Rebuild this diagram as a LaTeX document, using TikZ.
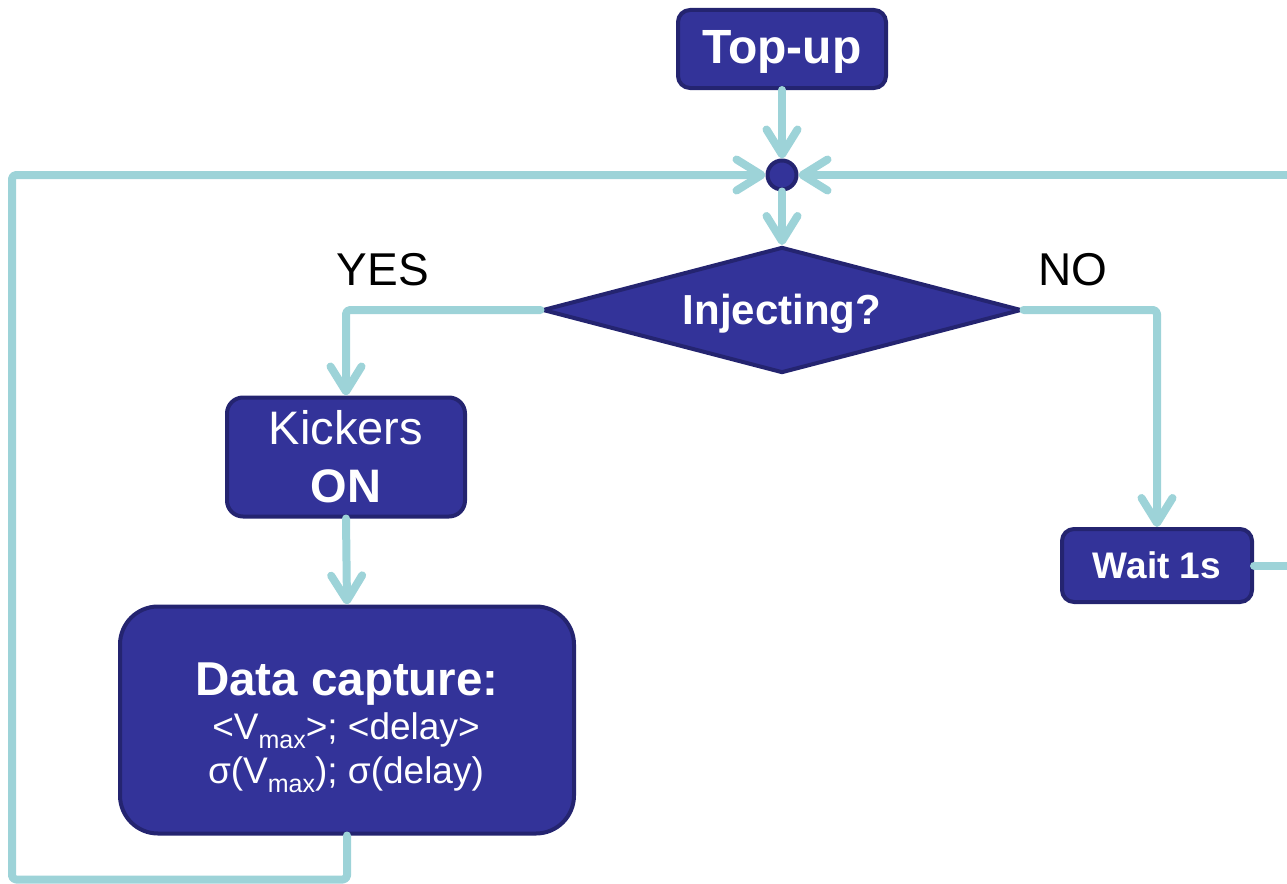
\documentclass[tikz,border=0pt]{standalone}
\usepackage{fontspec}
\usepackage{graphicx}
\setmainfont{Liberation Sans}
\usetikzlibrary{shapes.geometric,arrows.meta}
\definecolor{boxfill}{RGB}{51,51,153}
\definecolor{boxedge}{RGB}{36,36,112}
\definecolor{flow}{RGB}{157,211,216}
% lowered subscript in a fixed size
\newcommand{\lowsub}[1]{\raisebox{-9pt}{\fontsize{25}{25}\selectfont #1}}
% shift text down without changing the node size
\newcommand{\lowertext}[2]{\raisebox{-#1}[\height][\depth]{#2}}
\tikzset{
  stepbox/.style={draw=boxedge, fill=boxfill, line width=4pt, rounded corners=#1,
    text=white, inner sep=0pt, align=center},
  decision/.style={diamond, draw=boxedge, fill=boxfill, line width=4pt, text=white,
    inner sep=0pt, aspect=3.69, minimum width=479pt, minimum height=126pt},
  joint/.style={circle, draw=boxedge, fill=boxfill, line width=4pt, minimum size=29pt, inner sep=0pt},
  flowline/.style={draw=flow, line width=8pt, line cap=round, line join=round, rounded corners=4pt},
  flowarrow/.style={flowline, -{Straight Barb[length=25pt,width=31pt,line cap=round,line join=round]}},
  answer/.style={inner sep=0pt, font=\fontsize{46}{46}\selectfont, anchor=base},
  boxtext/.style={inner sep=0pt, text=white, anchor=base}
}
\begin{document}
\begin{tikzpicture}[x=1pt,y=-1pt]
\useasboundingbox (0,0) rectangle (1287,883);

% process boxes
\node[stepbox=12pt, minimum width=208pt, minimum height=78pt,
      font=\fontsize{48}{48}\selectfont\bfseries] (topup) at (782,49) {\lowertext{3pt}{Top-up}};
\node[joint] (join) at (782,175) {};
\node[decision, font=\fontsize{42}{42}\selectfont\bfseries] (inj) at (782,310) {\lowertext{4pt}{Injecting?}};
\node[stepbox=16pt, minimum width=238pt, minimum height=119pt,
      font=\fontsize{47}{58}\selectfont] (kick) at (346,457) {Kickers\\\textbf{ON}};
\node[stepbox=38pt, minimum width=454pt, minimum height=227pt] (data) at (347,720) {};
\node[boxtext, font=\fontsize{47.5}{47.5}\selectfont\bfseries]
      (dtitle) at (347,695) {Data capture:};
\node[boxtext, font=\fontsize{37}{37}\selectfont]
      (dmean) at (346,739) {<V\lowsub{max}>; <delay>};
\node[boxtext, font=\fontsize{37}{37}\selectfont]
      (dsig) at (346,783) {σ(V\lowsub{max}); σ(delay)};
\node[stepbox=12pt, minimum width=190pt, minimum height=73pt,
      font=\fontsize{37}{37}\selectfont\bfseries] (wait) at (1157,565.5) {Wait 1s};

% branch labels
\node[answer] (yes) at (383,285) {YES};
\node[answer] (no) at (1073,285) {NO};

% loop-back ends at the right margin
\coordinate (rtop) at (1295,175);
\coordinate (rmid) at (1295,565.5);

% connectors
\draw[flowarrow] (topup.south) -- (join.north);
\draw[flowarrow] (join.south) -- (inj.north);
\draw[flowarrow] (inj.west) -| (kick.north);
\draw[flowarrow] (kick.south) -- (data.north);
\draw[flowarrow] (inj.east) -| (wait.north);
\draw[flowarrow] (data.south) -- ++(0,44) -| (12,175) -- (join.west);
\draw[flowarrow] (rtop) -- (join.east);
\draw[flowline] (wait.east) -- (rmid);
\end{tikzpicture}
\end{document}
